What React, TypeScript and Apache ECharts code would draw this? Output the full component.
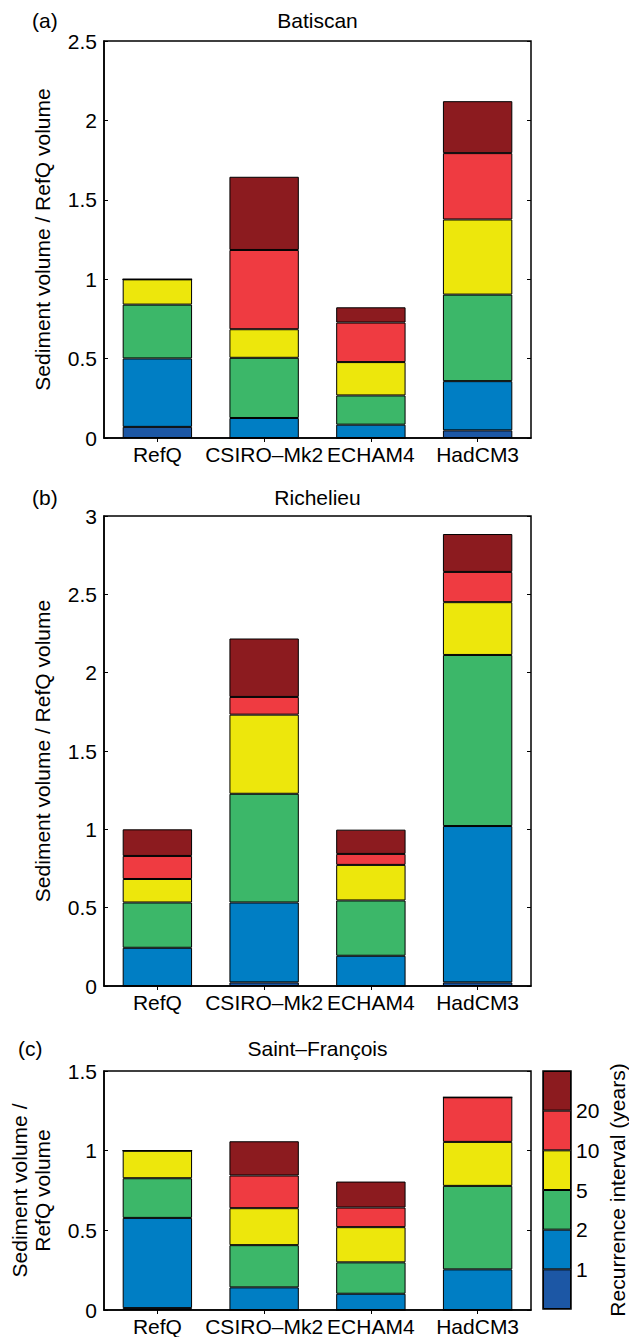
import React, { useEffect, useRef } from 'react';
import * as echarts from 'echarts';

const categories = ['RefQ', 'CSIRO–Mk2', 'ECHAM4', 'HadCM3'];
const classNames = ['<1 yr', '1–2 yr', '2–5 yr', '5–10 yr', '10–20 yr', '>20 yr'];
const classColors = ['#1C57A5', '#007EC4', '#3CB769', '#EDE70C', '#EF3B41', '#8C1B1F'];
const recurrenceTicks = ['1', '2', '5', '10', '20'];

// (a) Batiscan
const batiscanLt1 = [0.07, 0, 0, 0.048];
const batiscan1to2 = [0.431, 0.126, 0.084, 0.31];
const batiscan2to5 = [0.339, 0.379, 0.184, 0.545];
const batiscan5to10 = [0.159, 0.18, 0.21, 0.473];
const batiscan10to20 = [0, 0.499, 0.249, 0.418];
const batiscanGt20 = [0, 0.461, 0.096, 0.327];

// (b) Richelieu
const richelieuLt1 = [0, 0.023, 0, 0.023];
const richelieu1to2 = [0.244, 0.51, 0.193, 0.998];
const richelieu2to5 = [0.289, 0.694, 0.353, 1.092];
const richelieu5to10 = [0.15, 0.505, 0.227, 0.337];
const richelieu10to20 = [0.147, 0.113, 0.07, 0.193];
const richelieuGt20 = [0.17, 0.373, 0.155, 0.242];

// (c) Saint–François
const stFrancoisLt1 = [0.012, 0, 0, 0];
const stFrancois1to2 = [0.566, 0.142, 0.102, 0.255];
const stFrancois2to5 = [0.249, 0.265, 0.197, 0.524];
const stFrancois5to10 = [0.173, 0.232, 0.221, 0.276];
const stFrancois10to20 = [0, 0.205, 0.123, 0.28];
const stFrancoisGt20 = [0, 0.215, 0.163, 0];

const FONT = '"Liberation Sans", Arial, Helvetica, sans-serif';

const panels = [
  {
    letter: '(a)', letterX: 32, titleY: 20, title: 'Batiscan', max: 2.5, top: 41, height: 397,
    yName: 'Sediment volume / RefQ volume',
    stacks: [batiscanLt1, batiscan1to2, batiscan2to5, batiscan5to10, batiscan10to20, batiscanGt20],
  },
  {
    letter: '(b)', letterX: 32, titleY: 497, title: 'Richelieu', max: 3, top: 516, height: 470,
    yName: 'Sediment volume / RefQ volume',
    stacks: [richelieuLt1, richelieu1to2, richelieu2to5, richelieu5to10, richelieu10to20, richelieuGt20],
  },
  {
    letter: '(c)', letterX: 18, titleY: 1048, title: 'Saint–François', max: 1.5, top: 1071, height: 239,
    yName: 'Sediment volume /\nRefQ volume',
    stacks: [stFrancoisLt1, stFrancois1to2, stFrancois2to5, stFrancois5to10, stFrancois10to20, stFrancoisGt20],
  },
];

export default function App() {
  const ref = useRef<HTMLDivElement>(null);
  useEffect(() => {
    document.body.style.margin = '0';
    const chart = echarts.init(ref.current!, null, { renderer: 'svg' });
    const grids: any[] = [];
    const xAxes: any[] = [];
    const yAxes: any[] = [];
    const series: any[] = [];
    const graphics: any[] = [];
    const black = '#000';

    panels.forEach((p, i) => {
      grids.push({ left: 104, top: p.top, width: 427, height: p.height, show: true, borderColor: black, borderWidth: 1.5 });
      xAxes.push({
        gridIndex: i, type: 'category', data: categories,
        axisLine: { show: true, lineStyle: { color: black, width: 1.5 } },
        axisTick: { show: false },
        axisLabel: { color: black, fontSize: 21, fontFamily: FONT, margin: 6, interval: 0 },
      });
      xAxes.push({
        gridIndex: i, type: 'category', data: categories, position: 'top',
        axisLine: { show: false },
        axisTick: { show: true, inside: true, alignWithLabel: true, length: 4, lineStyle: { color: black, width: 1 } },
        axisLabel: { show: false },
      });
      yAxes.push({
        gridIndex: i, type: 'value', min: 0, max: p.max, interval: 0.5,
        axisLine: { show: true, lineStyle: { color: black, width: 1.5 } },
        axisTick: { show: true, inside: true, length: 4, lineStyle: { color: black, width: 1 } },
        splitLine: { show: false },
        axisLabel: { color: black, fontSize: 21, fontFamily: FONT, margin: 7 },
        name: p.yName, nameLocation: 'middle', nameGap: 50, nameRotate: 90,
        nameTextStyle: { color: black, fontSize: 21, fontFamily: FONT, lineHeight: 23 },
      });
      yAxes.push({
        gridIndex: i, type: 'value', min: 0, max: p.max, interval: 0.5, position: 'right',
        axisLine: { show: false },
        axisTick: { show: true, inside: true, length: 4, lineStyle: { color: black, width: 1 } },
        splitLine: { show: false },
        axisLabel: { show: false },
      });
      p.stacks.forEach((arr, k) => {
        series.push({
          type: 'bar', name: classNames[k], stack: 'p' + i,
          xAxisIndex: 2 * i, yAxisIndex: 2 * i,
          data: arr, barWidth: '65%',
          itemStyle: { color: classColors[k], borderColor: black, borderWidth: 1 },
        });
      });
      graphics.push({
        type: 'text', x: p.letterX, y: p.titleY,
        style: { text: p.letter, fontSize: 21, fontFamily: FONT, fill: black, align: 'left', verticalAlign: 'middle' },
      });
      graphics.push({
        type: 'text', x: 104 + 427 / 2, y: p.titleY,
        style: { text: p.title, fontSize: 21, fontFamily: FONT, fill: black, align: 'center', verticalAlign: 'middle' },
      });
    });

    // colour bar
    const cbIndex = panels.length;
    grids.push({ left: 543, top: 1071, width: 30, height: 238, show: true, borderColor: black, borderWidth: 1.5 });
    xAxes.push({ gridIndex: cbIndex, type: 'category', data: [''], show: false });
    yAxes.push({
      gridIndex: cbIndex, type: 'value', min: 0, max: 6, interval: 1, position: 'right',
      axisLine: { show: false }, axisTick: { show: false }, splitLine: { show: false },
      axisLabel: {
        color: black, fontSize: 21, fontFamily: FONT, margin: 5,
        formatter: (v: number) => recurrenceTicks[v - 1] ?? '',
      },
      name: 'Recurrence interval (years)', nameLocation: 'middle', nameGap: 36, nameRotate: 90,
      nameTextStyle: { color: black, fontSize: 21, fontFamily: FONT },
    });
    classColors.forEach((c, k) => {
      series.push({
        type: 'bar', name: 'cb' + classNames[k], stack: 'cb',
        xAxisIndex: 2 * cbIndex, yAxisIndex: 2 * cbIndex,
        data: [1], barWidth: '100%',
        itemStyle: { color: c, borderColor: black, borderWidth: 1 },
      });
    });

    chart.setOption({
      animation: false,
      backgroundColor: '#fff',
      grid: grids,
      xAxis: xAxes,
      yAxis: yAxes,
      series,
      graphic: graphics,
    });
    return () => chart.dispose();
  }, []);
  return <div ref={ref} style={{ width: 629, height: 1337 }} />;
}
